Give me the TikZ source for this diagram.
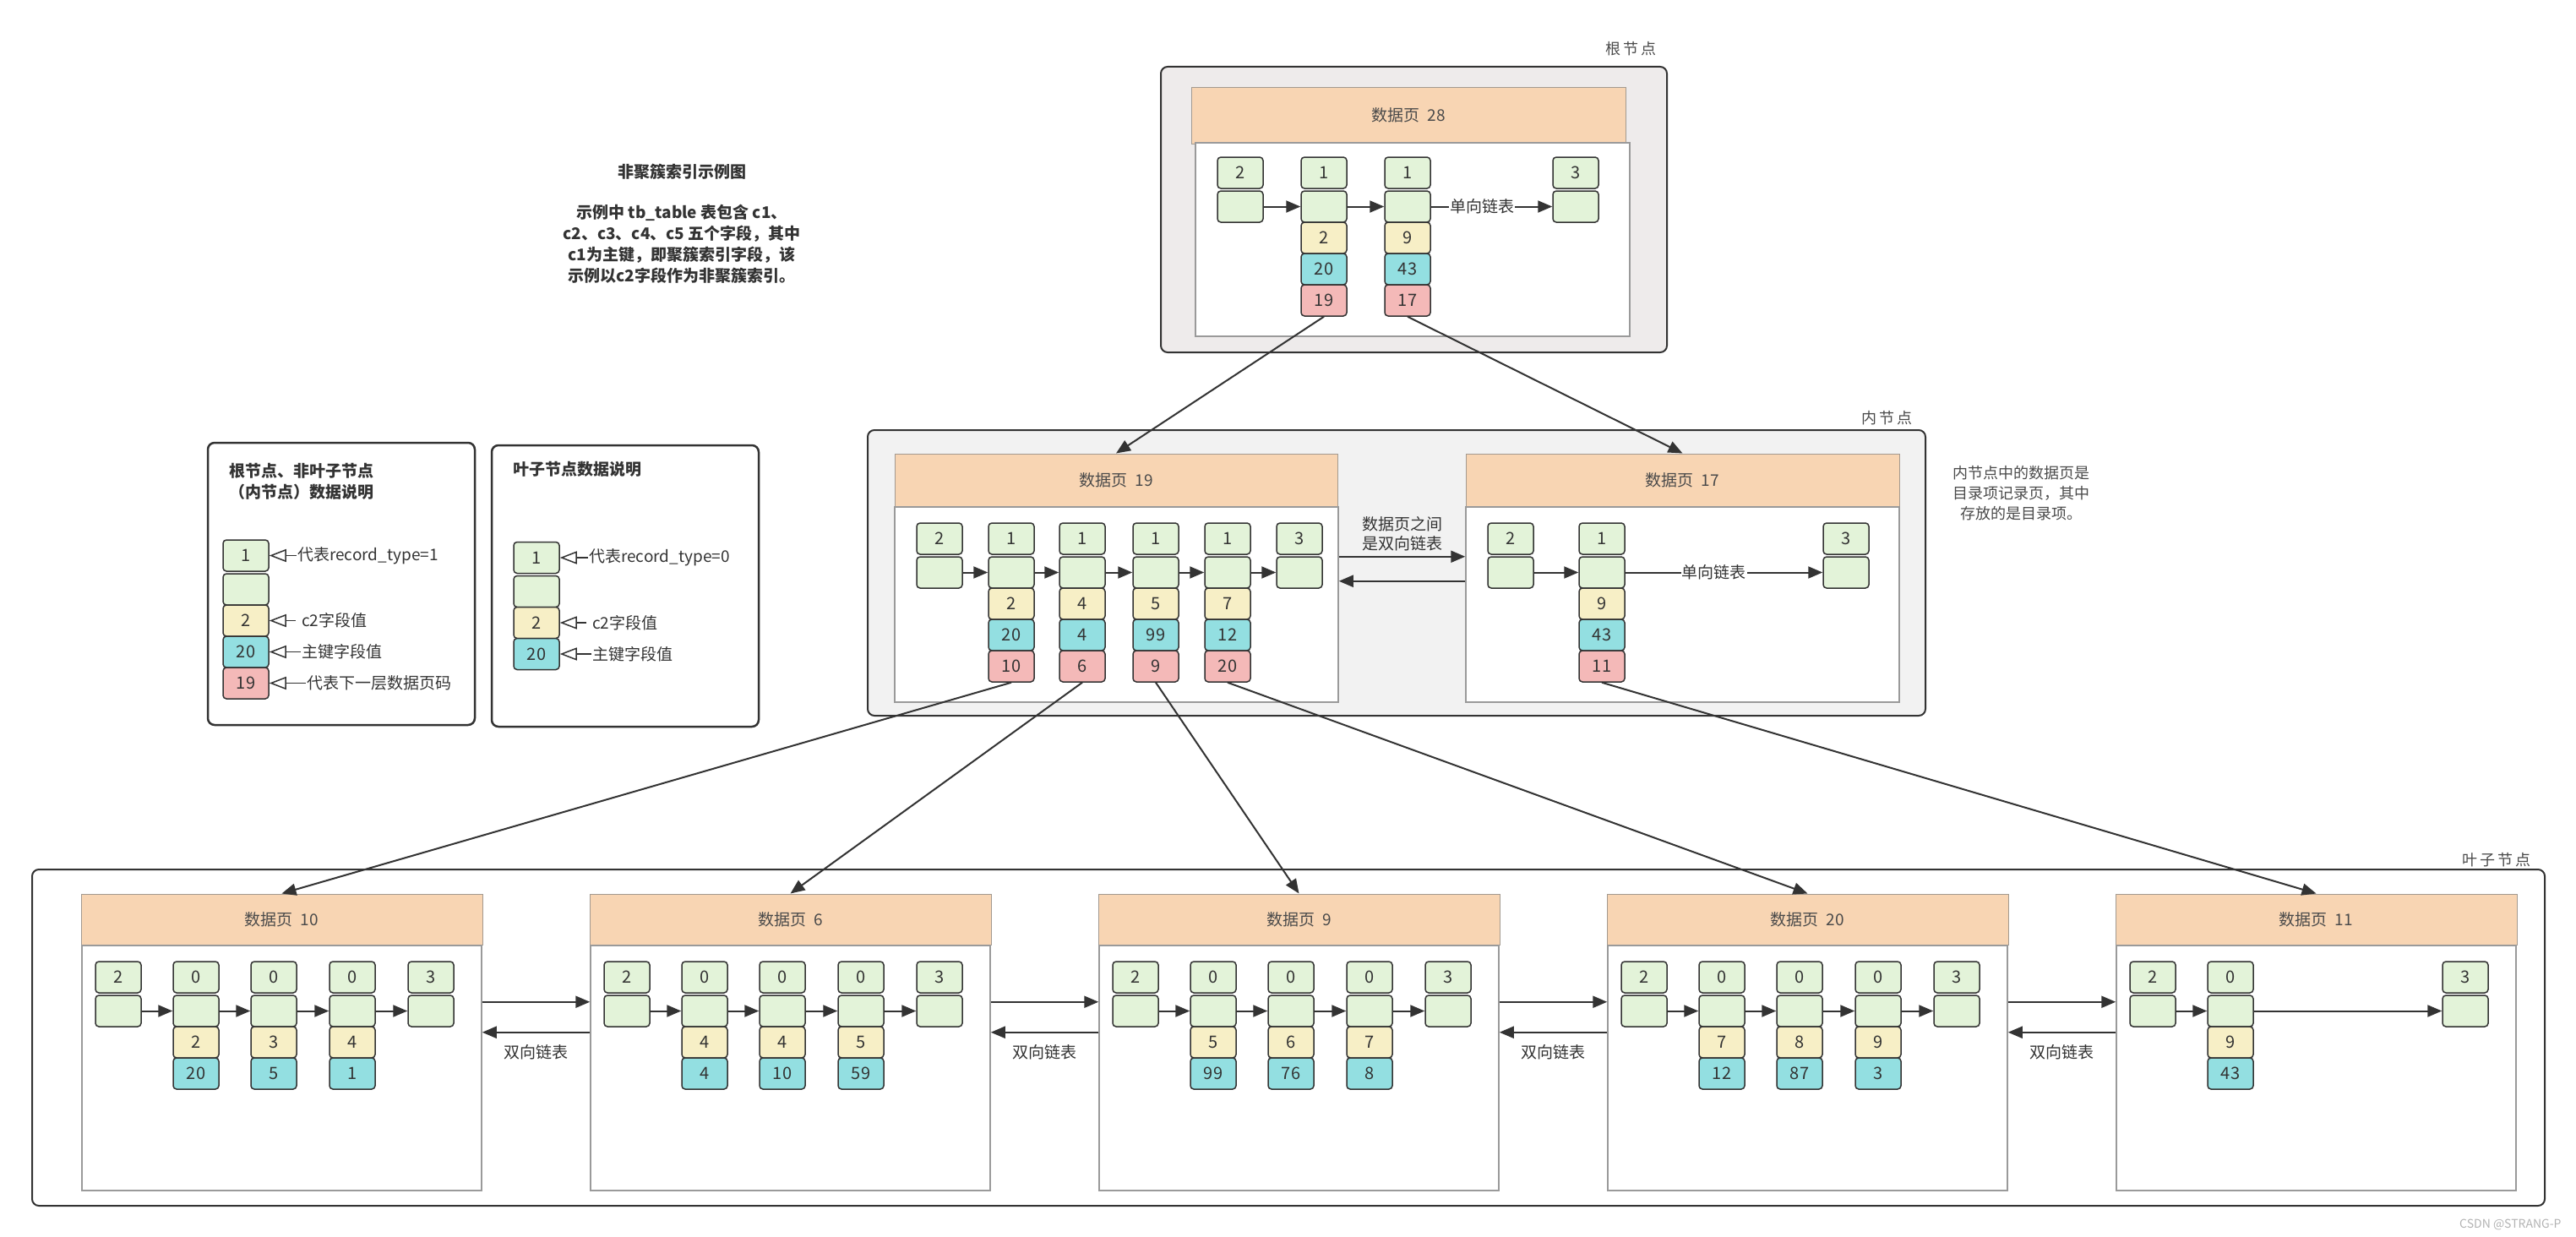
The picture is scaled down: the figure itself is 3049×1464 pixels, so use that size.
\documentclass[tikz,border=0pt]{standalone}
\usepackage{fontspec}
\setmainfont{Noto Sans CJK SC}
\usetikzlibrary{arrows.meta,calc}

\definecolor{linha}{HTML}{333333}
\definecolor{texto}{HTML}{4A4A4A}
\definecolor{cverde}{HTML}{E3F3D9}
\definecolor{camarelo}{HTML}{F7EFC6}
\definecolor{cciano}{HTML}{93DFE1}
\definecolor{crosa}{HTML}{F4B9B8}
\definecolor{cabec}{HTML}{F8D5B3}
\definecolor{borda}{HTML}{A39A90}
\definecolor{cinza}{HTML}{9A9A9A}
\definecolor{fundoraiz}{HTML}{EEEBEB}
\definecolor{fundointerno}{HTML}{F2F2F2}

\tikzset{
  cel/.style={draw=linha, line width=1.5pt, rounded corners=4pt, minimum width=54pt,
    minimum height=37pt, inner sep=0pt, font=\fontsize{20}{20}\selectfont, text=linha},
  verde/.style={cel, fill=cverde},
  amarelo/.style={cel, fill=camarelo},
  ciano/.style={cel, fill=cciano},
  rosa/.style={cel, fill=crosa},
  cab/.style={draw=borda, line width=1pt, fill=cabec, inner sep=0pt,
    font=\fontsize{19}{19}\selectfont, text=texto},
  corpo/.style={draw=cinza, line width=1.5pt, fill=white, inner sep=0pt},
  caixa/.style={draw=linha, line width=2pt, rounded corners=8pt},
  seta/.style={draw=linha, line width=2pt, -{Triangle[length=17pt,width=14pt]}},
  aberta/.style={draw=linha, line width=1.5pt, -{Triangle[open,length=20pt,width=15pt]}},
  rotulo/.style={font=\fontsize{19}{23}\selectfont, text=linha, inner sep=1pt},
  nivel/.style={font=\fontsize{18}{18}\selectfont, text=texto},
  titulo/.style={font=\fontsize{19}{25}\selectfont\bfseries, text=linha},
}

% celulas de um registro
\newcommand{\chave}[4]{\node[verde] (#1-a) at (#2,#3) {#4};
  \node[verde] (#1-b) at (#2,#3+40) {};}
\newcommand{\campos}[5]{\node[amarelo] (#1-c) at (#2,#3+77) {#4};
  \node[ciano] (#1-d) at (#2,#3+114) {#5};}
\newcommand{\pagnum}[4]{\node[rosa] (#1-e) at (#2,#3+151) {#4};}
\newcommand{\esp}{\hspace{3pt}}

\begin{document}
\begin{tikzpicture}[x=1pt,y=-1pt]
\useasboundingbox (0,0) rectangle (3049,1464);

% Caixas dos niveis
\draw[caixa, fill=fundoraiz] (1374,79) rectangle (1973,417);
\draw[caixa, fill=fundointerno] (1027,509) rectangle (2279,847);
\draw[caixa, fill=white] (38,1029) rectangle (3012,1427);
\node[nivel] (nraiz) at (1930,58) {根\esp 节\esp 点};
\node[nivel] (ninterno) at (2233,495) {内\esp 节\esp 点};
\node[nivel] (nfolha) at (2955,1018) {叶\esp 子\esp 节\esp 点};

% Titulo
\node[titulo] (tit) at (807,203) {非聚簇索引示例图};
\node[titulo, align=center] (desc) at (807,289) {示例中 tb\_table 表包含 c1、\\c2、c3、c4、c5 五个字段，其中\\c1为主键，即聚簇索引字段，该\\示例以c2字段作为非聚簇索引。};

% Legendas
\draw[caixa, line width=2.5pt] (246,524) rectangle (562,858);
\draw[caixa, line width=2.5pt] (582,527) rectangle (898,860);
\node[titulo, align=center] (lega) at (357,570) {根节点、非叶子节点\\（内节点）数据说明};
\node[titulo] (legb) at (683,555) {叶子节点数据说明};

\chave{la}{291}{657.5}{1}
\campos{la}{291}{657.5}{2}{20}
\pagnum{la}{291}{657.5}{19}
\node[rotulo, anchor=west] (ta1) at (351,657.5) {代表record\_type=1};
\node[rotulo, anchor=west] (ta3) at (356,734.5) {c2字段值};
\node[rotulo, anchor=west] (ta4) at (356,771.5) {主键字段值};
\node[rotulo, anchor=west] (ta5) at (362,808.5) {代表下一层数据页码};
\draw[aberta] (ta1.west) -- (la-a.east);
\draw[aberta] ([xshift=-6pt]ta3.west) -- (la-c.east);
\draw[aberta] (ta4.west) -- (la-d.east);
\draw[aberta] (ta5.west) -- (la-e.east);

\chave{lb}{635}{660}{1}
\campos{lb}{635}{660}{2}{20}
\node[rotulo, anchor=west] (tb1) at (696,660) {代表record\_type=0};
\node[rotulo, anchor=west] (tb3) at (700,737) {c2字段值};
\node[rotulo, anchor=west] (tb4) at (700,774) {主键字段值};
\draw[aberta] (tb1.west) -- (lb-a.east);
\draw[aberta] ([xshift=-6pt]tb3.west) -- (lb-c.east);
\draw[aberta] (tb4.west) -- (lb-d.east);

% Raiz: pagina 28
\node[cab, minimum width=514pt, minimum height=67pt] (p28) at (1667,136.5) {数据页\hspace{9pt}28};
\node[corpo, minimum width=514pt, minimum height=229pt, anchor=north] (p28c) at (1672,168) {};
\chave{r1}{1468}{204.5}{2}
\chave{r2}{1567}{204.5}{1}
\campos{r2}{1567}{204.5}{2}{20}
\pagnum{r2}{1567}{204.5}{19}
\chave{r3}{1666}{204.5}{1}
\campos{r3}{1666}{204.5}{9}{43}
\pagnum{r3}{1666}{204.5}{17}
\chave{r4}{1865}{204.5}{3}
\draw[seta] (r1-b) -- (r2-b);
\draw[seta] (r2-b) -- (r3-b);
\draw[seta] (r3-b) -- node[rotulo, fill=white, pos=0.42] (sr) {单向链表} (r4-b);

% Nivel interno: paginas 19 e 17
\node[cab, minimum width=524pt, minimum height=62pt] (p19) at (1321,568) {数据页\hspace{9pt}19};
\node[corpo, minimum width=525pt, minimum height=231pt, anchor=north] (p19c) at (1321.5,599) {};
\node[cab, minimum width=513pt, minimum height=62pt] (p17) at (1991.5,568) {数据页\hspace{9pt}17};
\node[corpo, minimum width=513pt, minimum height=231pt, anchor=north] (p17c) at (1991.5,599) {};

\chave{q1}{1112}{637.5}{2}
\foreach \k/\x/\a/\b/\c in {2/1197/2/20/10, 3/1281/4/4/6, 4/1368/5/99/9, 5/1453/7/12/20} {
  \chave{q\k}{\x}{637.5}{1}
  \campos{q\k}{\x}{637.5}{\a}{\b}
  \pagnum{q\k}{\x}{637.5}{\c}
}
\chave{q6}{1538}{637.5}{3}
\foreach \k/\j in {1/2,2/3,3/4,4/5,5/6}
  \draw[seta] (q\k-b) -- (q\j-b);

\chave{s1}{1788}{637.5}{2}
\chave{s2}{1896}{637.5}{1}
\campos{s2}{1896}{637.5}{9}{43}
\pagnum{s2}{1896}{637.5}{11}
\chave{s3}{2185}{637.5}{3}
\draw[seta] (s1-b) -- (s2-b);
\draw[seta] (s2-b) -- node[rotulo, fill=white, pos=0.45] (ss) {单向链表} (s3-b);

\draw[seta] ($(p19c.east)+(0,-56.5)$) -- ($(p17c.west)+(0,-56.5)$);
\draw[seta] ($(p17c.west)+(0,-27.5)$) -- ($(p19c.east)+(0,-27.5)$);
\node[rotulo, align=center] (dpi) at ($(p19c.east)!0.5!(p17c.west)+(0,-83.5)$) {数据页之间\\是双向链表};

\node[rotulo, align=center, text=texto, font=\fontsize{18}{24}\selectfont] (nota) at (2392,584)
  {内节点中的数据页是\\目录项记录页，其中\\存放的是目录项。};

% Folhas
\foreach \i/\pg/\a/\b/\c/\d/\e/\f in {0/10/2/20/3/5/4/1, 1/6/4/4/4/10/5/59, 2/9/5/99/6/76/7/8, 3/20/7/12/8/87/9/3} {
  \pgfmathsetmacro\L{96+602*\i}
  \node[cab, minimum width=475pt, minimum height=60pt] (f\i) at (\L+237.5,1088) {数据页\hspace{9pt}\pg};
  \node[corpo, minimum width=473pt, minimum height=290pt, anchor=north] (f\i-corpo) at (\L+237.5,1118) {};
  \chave{f\i-1}{\L+44}{1156.5}{2}
  \chave{f\i-2}{\L+136}{1156.5}{0}
  \campos{f\i-2}{\L+136}{1156.5}{\a}{\b}
  \chave{f\i-3}{\L+228}{1156.5}{0}
  \campos{f\i-3}{\L+228}{1156.5}{\c}{\d}
  \chave{f\i-4}{\L+321}{1156.5}{0}
  \campos{f\i-4}{\L+321}{1156.5}{\e}{\f}
  \chave{f\i-5}{\L+414}{1156.5}{3}
  \draw[seta] (f\i-1-b) -- (f\i-2-b);
  \draw[seta] (f\i-2-b) -- (f\i-3-b);
  \draw[seta] (f\i-3-b) -- (f\i-4-b);
  \draw[seta] (f\i-4-b) -- (f\i-5-b);
}
% pagina 11
\node[cab, minimum width=475pt, minimum height=60pt] (f4) at (2741.5,1088) {数据页\hspace{9pt}11};
\node[corpo, minimum width=473pt, minimum height=290pt, anchor=north] (f4-corpo) at (2741.5,1118) {};
\chave{f4-1}{2548}{1156.5}{2}
\chave{f4-2}{2640}{1156.5}{0}
\campos{f4-2}{2640}{1156.5}{9}{43}
\chave{f4-5}{2918}{1156.5}{3}
\draw[seta] (f4-1-b) -- (f4-2-b);
\draw[seta] (f4-2-b) -- (f4-5-b);

\foreach \i/\j in {0/1,1/2,2/3,3/4} {
  \draw[seta] ($(f\i-corpo.east)+(0,-78)$) -- ($(f\j-corpo.west)+(0,-78)$);
  \draw[seta] ($(f\j-corpo.west)+(0,-42)$) -- ($(f\i-corpo.east)+(0,-42)$);
  \node[rotulo] (dl\i) at ($(f\i-corpo.east)!0.5!(f\j-corpo.west)+(0,-18)$) {双向链表};
}

% Ligacoes entre niveis
\draw[seta] (r2-e.south) -- (p19.north);
\draw[seta] (r3-e.south) -- (p17.north);
\draw[seta] (q2-e.south) -- (f0.north);
\draw[seta] (q3-e.south) -- (f1.north);
\draw[seta] (q4-e.south) -- (f2.north);
\draw[seta] (q5-e.south) -- (f3.north);
\draw[seta] (s2-e.south) -- (f4.north);

\node[anchor=east, text=gray!60, font=\fontsize{14}{14}\selectfont] (marca) at (3035,1449) {CSDN @STRANG-P};
\end{tikzpicture}
\end{document}
